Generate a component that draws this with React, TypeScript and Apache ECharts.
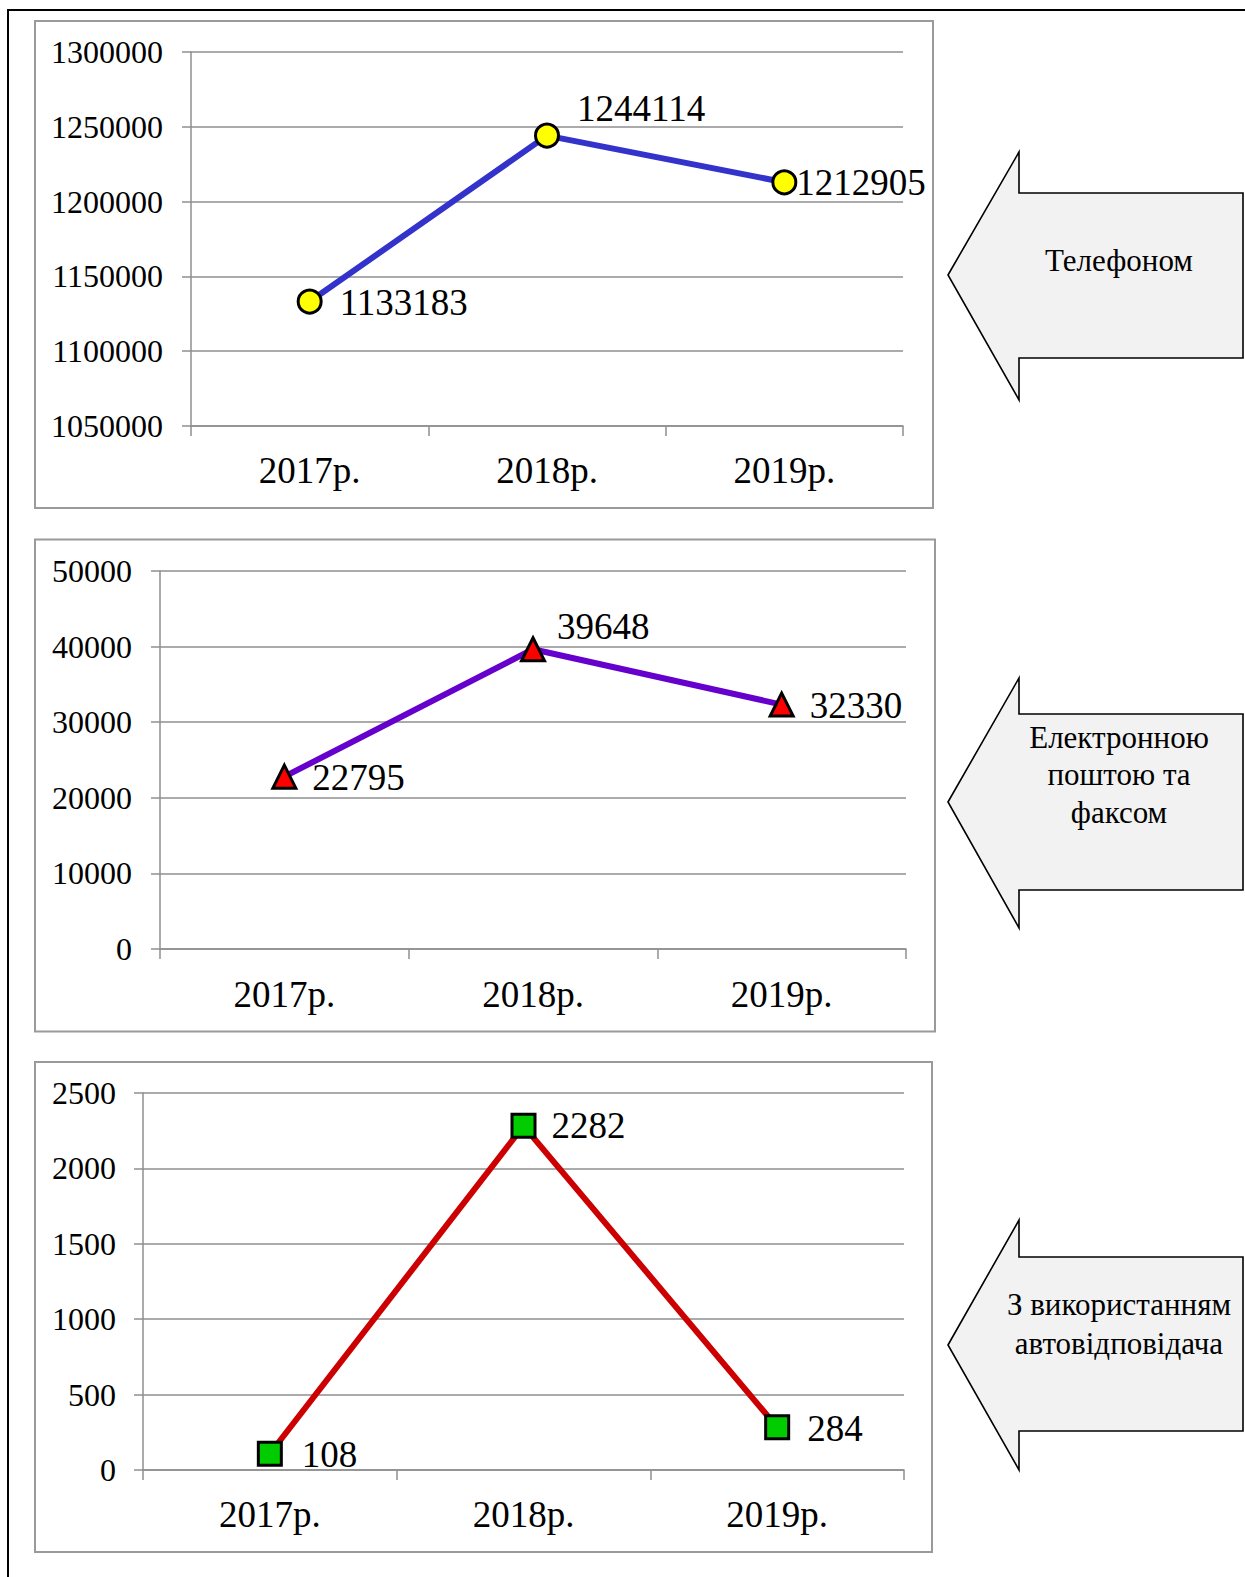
import React, { useEffect, useRef } from 'react';
import * as echarts from 'echarts';

// Years on every category axis
const years = ['2017р.', '2018р.', '2019р.'];

// Requests received by channel
const phoneValues = [1133183, 1244114, 1212905];
const emailFaxValues = [22795, 39648, 32330];
const answerphoneValues = [108, 2282, 284];

// Value axis ranges (min, max, step)
const phoneAxis = [1050000, 1300000, 50000];
const emailFaxAxis = [0, 50000, 10000];
const answerphoneAxis = [0, 2500, 500];

// Captions inside the arrows
const captions = ['Телефоном', 'Електронною\nпоштою та\nфаксом', 'З використанням\nавтовідповідача'];

const FONT = '"Liberation Serif", "Times New Roman", Times, serif';
const GRID_GRAY = '#8f8f8f';
const BOX_GRAY = '#9a9a9a';

type Panel = {
  values: number[];
  axis: number[];
  grid: { left: number; top: number; width: number; height: number };
  box: [number, number, number, number];
  lineColor: string;
  symbol: string;
  symbolColor: string;
  labelOffsets: [number, number][];
  yLabelMargin: number;
  xLabelMargin: number;
  arrow: { tipX: number; tipY: number; neckX: number; headTop: number; headBottom: number; shaftTop: number; shaftBottom: number; right: number };
  caption: string;
  captionY: number;
  captionLineHeight: number;
};

const panels: Panel[] = [
  {
    values: phoneValues,
    axis: phoneAxis,
    grid: { left: 191, top: 52, width: 712, height: 374 },
    box: [35, 21, 898, 487],
    lineColor: '#3333CC',
    symbol: 'circle',
    symbolColor: '#FFFF00',
    labelOffsets: [[17, 1], [17, -27], [-1, 0]],
    yLabelMargin: 28,
    xLabelMargin: 26,
    arrow: { tipX: 948, tipY: 275, neckX: 1019, headTop: 152, headBottom: 400, shaftTop: 193, shaftBottom: 358, right: 1243 },
    caption: captions[0],
    captionY: 260,
    captionLineHeight: 38,
  },
  {
    values: emailFaxValues,
    axis: emailFaxAxis,
    grid: { left: 160, top: 571, width: 746, height: 378 },
    box: [35, 539.5, 900, 492],
    lineColor: '#6600CC',
    symbol: 'triangle',
    symbolColor: '#FF0000',
    labelOffsets: [[15, 1], [11, -23], [15, 1]],
    yLabelMargin: 28,
    xLabelMargin: 27,
    arrow: { tipX: 948, tipY: 802, neckX: 1019, headTop: 678, headBottom: 928, shaftTop: 714, shaftBottom: 890, right: 1243 },
    caption: captions[1],
    captionY: 774.5,
    captionLineHeight: 37.5,
  },
  {
    values: answerphoneValues,
    axis: answerphoneAxis,
    grid: { left: 143, top: 1093, width: 761, height: 377 },
    box: [35, 1062, 897, 490],
    lineColor: '#CC0000',
    symbol: 'rect',
    symbolColor: '#00CC00',
    labelOffsets: [[19, 1], [15, 0], [17, 1]],
    yLabelMargin: 27,
    xLabelMargin: 26,
    arrow: { tipX: 948, tipY: 1345, neckX: 1019, headTop: 1220, headBottom: 1470, shaftTop: 1257, shaftBottom: 1431, right: 1243 },
    caption: captions[2],
    captionY: 1323.5,
    captionLineHeight: 39,
  },
];

function buildOption() {
  const grid = panels.map((p) => ({ ...p.grid, containLabel: false, outerBoundsMode: 'none' }));

  const xAxis = panels.map((p, i) => ({
    type: 'category',
    gridIndex: i,
    data: years,
    boundaryGap: true,
    axisLine: { show: true, lineStyle: { color: GRID_GRAY, width: 1.5 } },
    axisTick: { show: true, length: 10, alignWithLabel: false, lineStyle: { color: GRID_GRAY, width: 1.5 } },
    axisLabel: { color: '#000', fontFamily: FONT, fontSize: 37, margin: p.xLabelMargin },
    splitLine: { show: false },
  }));

  const yAxis = panels.map((p, i) => ({
    type: 'value',
    gridIndex: i,
    min: p.axis[0],
    max: p.axis[1],
    interval: p.axis[2],
    axisLine: { show: true, lineStyle: { color: GRID_GRAY, width: 1.5 } },
    axisTick: { show: true, length: 9, lineStyle: { color: GRID_GRAY, width: 1.5 } },
    axisLabel: {
      color: '#000',
      fontFamily: FONT,
      fontSize: 32,
      margin: p.yLabelMargin,
      formatter: (v: number) => String(v),
    },
    splitLine: { show: true, lineStyle: { color: GRID_GRAY, width: 1.5 } },
  }));

  const series = panels.map((p, i) => ({
    type: 'line',
    xAxisIndex: i,
    yAxisIndex: i,
    symbol: p.symbol,
    symbolSize: 23,
    lineStyle: { color: p.lineColor, width: 6 },
    itemStyle: { color: p.symbolColor, borderColor: '#000', borderWidth: 3 },
    label: {
      show: true,
      position: 'right',
      distance: 0,
      color: '#000',
      fontFamily: FONT,
      fontSize: 37,
      formatter: '{c}',
    },
    data: p.values.map((v, k) => ({ value: v, label: { offset: p.labelOffsets[k] } })),
    z: 3,
  }));

  const graphic: any[] = [];
  // outer page frame (left and top edges)
  graphic.push({
    type: 'polyline',
    shape: { points: [[8, 1577], [8, 10], [1245, 10]] },
    style: { stroke: '#000', lineWidth: 2, fill: 'none' },
    silent: true,
  });
  panels.forEach((p) => {
    const [bx, by, bw, bh] = p.box;
    graphic.push({
      type: 'rect',
      shape: { x: bx, y: by, width: bw, height: bh },
      style: { stroke: BOX_GRAY, lineWidth: 2, fill: 'none' },
      silent: true,
    });
    const a = p.arrow;
    graphic.push({
      type: 'polygon',
      shape: {
        points: [
          [a.tipX, a.tipY],
          [a.neckX, a.headTop],
          [a.neckX, a.shaftTop],
          [a.right, a.shaftTop],
          [a.right, a.shaftBottom],
          [a.neckX, a.shaftBottom],
          [a.neckX, a.headBottom],
        ],
      },
      style: { fill: '#F2F2F2', stroke: '#000', lineWidth: 1.6 },
      silent: true,
    });
    graphic.push({
      type: 'text',
      x: 1119,
      y: p.captionY,
      style: {
        text: p.caption,
        fontFamily: FONT,
        fontSize: 31,
        lineHeight: p.captionLineHeight,
        fill: '#000',
        align: 'center',
        verticalAlign: 'middle',
      },
      silent: true,
    });
  });

  return {
    animation: false,
    backgroundColor: '#fff',
    grid,
    xAxis,
    yAxis,
    series,
    graphic,
  };
}

export default function App() {
  const ref = useRef<HTMLDivElement>(null);

  useEffect(() => {
    if (!ref.current) return;
    const chart = echarts.init(ref.current, null, { renderer: 'svg' });
    chart.setOption(buildOption() as any);
    return () => chart.dispose();
  }, []);

  return (
    <div
      ref={ref}
      style={{ position: 'absolute', left: 0, top: 0, width: 1245, height: 1577, background: '#fff' }}
    />
  );
}
